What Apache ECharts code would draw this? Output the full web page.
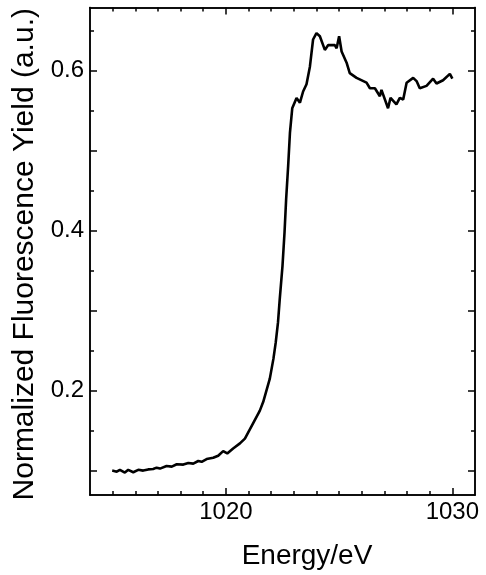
<!DOCTYPE html>
<html lang="en">
<head>
    <meta charset="UTF-8">
    <title>Fluorescence yield</title>
    <script src="https://cdn.jsdelivr.net/npm/echarts@6/dist/echarts.min.js"></script>
    <style>
        body{ margin: 0; background: #fff; }
    </style>
</head>
<body>
    <div id="myChart" style="width: 486px;height:575px;"></div>

    <script>
        // energy (eV) and normalized yield
        var energy = [1014.98, 1015.18, 1015.32, 1015.54, 1015.69, 1015.91, 1016.13, 1016.35, 1016.57, 1016.79,
            1016.94, 1017.09, 1017.38, 1017.61, 1017.83, 1018.12, 1018.34, 1018.56, 1018.78, 1018.93,
            1019.15, 1019.44, 1019.66, 1019.88, 1020.06, 1020.32, 1020.62, 1020.84, 1021.2, 1021.5,
            1021.65, 1021.94, 1022.1, 1022.2, 1022.3, 1022.38, 1022.5, 1022.59, 1022.66, 1022.75, 1022.83,
            1022.93, 1023.12, 1023.27, 1023.41, 1023.56, 1023.71, 1023.85, 1024.0, 1024.15, 1024.37,
            1024.52, 1024.81, 1024.89, 1025.0, 1025.11, 1025.33, 1025.47, 1025.77, 1026.21, 1026.36,
            1026.58, 1026.8, 1026.87, 1027.16, 1027.27, 1027.53, 1027.68, 1027.83, 1027.98, 1028.27,
            1028.42, 1028.56, 1028.86, 1029.15, 1029.3, 1029.59, 1029.89, 1030.0];
        var yieldVal = [0.100, 0.0987, 0.101, 0.0975, 0.101, 0.098, 0.101, 0.100, 0.1015, 0.102,
            0.1037, 0.1025, 0.1057, 0.105, 0.108, 0.1075, 0.1095, 0.1087, 0.112, 0.111,
            0.1144, 0.116, 0.1186, 0.1244, 0.1215, 0.1277, 0.134, 0.140, 0.159, 0.175,
            0.186, 0.215, 0.240, 0.260, 0.285, 0.315, 0.356, 0.398, 0.439, 0.481, 0.523,
            0.553, 0.566, 0.560, 0.574, 0.583, 0.605, 0.639, 0.647, 0.643, 0.626,
            0.632, 0.632, 0.628, 0.643, 0.624, 0.610, 0.597, 0.591, 0.585, 0.578,
            0.578, 0.568, 0.576, 0.553, 0.566, 0.558, 0.566, 0.564, 0.585, 0.591,
            0.587, 0.578, 0.581, 0.590, 0.584, 0.588, 0.596, 0.590];

        var xMinorTicks = [1015, 1016, 1017, 1018, 1019, 1021, 1022, 1023, 1024, 1025, 1026, 1027, 1028, 1029];
        var xMajorTicks = [1020, 1030];
        var yMinorTicks = [0.15, 0.25, 0.35, 0.45, 0.55, 0.65];
        var yMajorTicks = [0.1, 0.2, 0.3, 0.4, 0.5, 0.6];
        var yLabels = [0.2, 0.4, 0.6];

        var font = 'Liberation Sans, Arial, sans-serif';
        var lineStyle = {color: '#000', width: 1.5};

        function xAx(pos, ticks, len, showLabel) {
            return {
                type: 'value', position: pos, min: 1014, max: 1031,
                axisLine: {show: true, onZero: false, lineStyle: lineStyle},
                axisTick: {show: true, inside: true, length: len, customValues: ticks, lineStyle: lineStyle},
                axisLabel: {show: showLabel, customValues: xMajorTicks, margin: 5,
                    color: '#000', fontSize: 24, fontFamily: font,
                    formatter: function (v) { return String(v); }},
                splitLine: {show: false}
            };
        }
        function yAx(pos, ticks, len, showLabel) {
            return {
                type: 'value', position: pos, min: 0.0695, max: 0.679,
                axisLine: {show: true, onZero: false, lineStyle: lineStyle},
                axisTick: {show: true, inside: true, length: len, customValues: ticks, lineStyle: lineStyle},
                axisLabel: {show: showLabel, customValues: yLabels, margin: 6,
                    color: '#000', fontSize: 24, fontFamily: font,
                    formatter: function (v) { return v.toFixed(1); }},
                splitLine: {show: false}
            };
        }

        var xs = [xAx('bottom', xMinorTicks, 4, true), xAx('bottom', xMajorTicks, 7, false),
            xAx('top', xMinorTicks, 4, false), xAx('top', xMajorTicks, 7, false)];
        xs[0].name = 'Energy/eV';
        xs[0].nameLocation = 'middle';
        xs[0].nameGap = 47;
        xs[0].nameTextStyle = {color: '#000', fontSize: 28, fontFamily: font, padding: [0, 0, 0, 49]};

        var ys = [yAx('left', yMinorTicks, 4, true), yAx('left', yMajorTicks, 7, false),
            yAx('right', yMinorTicks, 4, false), yAx('right', yMajorTicks, 7, false)];
        ys[0].name = 'Normalized Fluorescence Yield (a.u.)';
        ys[0].nameLocation = 'middle';
        ys[0].nameGap = 46;
        ys[0].nameTextStyle = {color: '#000', fontSize: 30, fontFamily: font, padding: [0, 6, 0, 0]};

        var points = energy.map(function (e, i) { return [e, yieldVal[i]]; });

        var myChart = echarts.init(document.getElementById('myChart'));
        myChart.setOption({
            animation: false,
            grid: {left: 90, right: 11, top: 7.5, bottom: 78, containLabel: false},
            xAxis: xs,
            yAxis: ys,
            series: [{
                type: 'line',
                xAxisIndex: 0,
                yAxisIndex: 0,
                data: points,
                showSymbol: false,
                smooth: false,
                lineStyle: {color: '#000', width: 2.6}
            }]
        });
    </script>
</body>
</html>
